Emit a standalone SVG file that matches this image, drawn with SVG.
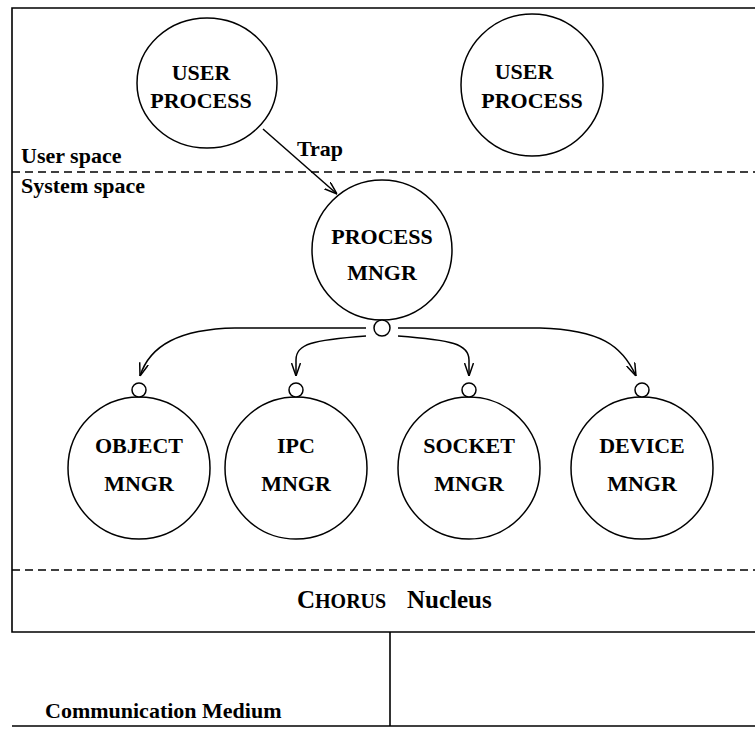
<svg xmlns="http://www.w3.org/2000/svg" width="755" height="729" viewBox="0 0 755 729">
  <style>
    .frame { fill: none; stroke: #000; stroke-width: 1.6; }
    .sep { fill: none; stroke: #000; stroke-width: 1.5; stroke-dasharray: 8 5; }
    .node { fill: #fff; stroke: #000; stroke-width: 1.5; }
    .port { fill: #fff; stroke: #000; stroke-width: 1.5; }
    .wire { fill: none; stroke: #000; stroke-width: 1.5; }
    .lbl { font-family: "Liberation Serif", "Times New Roman", serif; font-weight: bold; font-size: 22px; fill: #000; }
    .mid { text-anchor: middle; }
  </style>
  <defs>
    <marker id="arrow" viewBox="0 0 13 10" refX="13" refY="5" markerWidth="13" markerHeight="10" markerUnits="userSpaceOnUse" orient="auto">
      <path d="M0,0.5 L13,5 L0,9.5" fill="none" stroke="#000" stroke-width="1.5"/>
    </marker>
  </defs>
  <rect width="755" height="729" fill="#fff"/>

  <!-- system frame and region separators -->
  <g id="frame">
    <path class="frame" d="M756,8 H12 V632 H756"/>
    <line class="sep" x1="12" y1="172" x2="756" y2="172"/>
    <line class="sep" x1="12" y1="570" x2="756" y2="570"/>
    <line class="frame" x1="12" y1="726" x2="756" y2="726"/>
    <line class="frame" x1="390" y1="632" x2="390" y2="726"/>
  </g>

  <!-- region labels -->
  <g id="labels">
    <text class="lbl" x="21" y="163">User space</text>
    <text class="lbl" x="21" y="193">System space</text>
    <text class="lbl" x="297" y="156">Trap</text>
    <text class="lbl" x="297" y="608"><tspan font-size="25">C</tspan><tspan font-size="20">HORUS</tspan><tspan x="407" font-size="25">Nucleus</tspan></text>
    <text class="lbl" x="45" y="718" font-size="23">Communication Medium</text>
  </g>

  <!-- connectors -->
  <g id="connectors">
    <line class="wire" x1="263" y1="129" x2="337" y2="194" marker-end="url(#arrow)"/>
    <path class="wire" d="M366,328 H235 C180,329 150,345 140,376" marker-end="url(#arrow)"/>
    <path class="wire" d="M366,336 C312,340 296,344 296,360 V376" marker-end="url(#arrow)"/>
    <path class="wire" d="M398,336 C452,340 469,344 469,360 V376" marker-end="url(#arrow)"/>
    <path class="wire" d="M398,328 H540 C600,330 622,345 636,376" marker-end="url(#arrow)"/>
  </g>

  <g id="user-process-1">
    <ellipse class="node" cx="207" cy="83" rx="70" ry="65"/>
    <text class="lbl mid" x="201" y="80">USER</text>
    <text class="lbl mid" x="201" y="108">PROCESS</text>
  </g>

  <g id="user-process-2">
    <circle class="node" cx="532" cy="85" r="71"/>
    <text class="lbl mid" x="524" y="79">USER</text>
    <text class="lbl mid" x="532" y="108">PROCESS</text>
  </g>

  <g id="process-mngr">
    <circle class="node" cx="382" cy="250" r="70"/>
    <circle class="port" cx="382" cy="328" r="8"/>
    <text class="lbl mid" x="382" y="244">PROCESS</text>
    <text class="lbl mid" x="382" y="280">MNGR</text>
  </g>

  <g id="object-mngr">
    <circle class="node" cx="139" cy="468" r="71"/>
    <circle class="port" cx="139" cy="390" r="7"/>
    <text class="lbl mid" x="139" y="453">OBJECT</text>
    <text class="lbl mid" x="139" y="491">MNGR</text>
  </g>

  <g id="ipc-mngr">
    <circle class="node" cx="296" cy="468" r="71"/>
    <circle class="port" cx="296" cy="390" r="7"/>
    <text class="lbl mid" x="296" y="453">IPC</text>
    <text class="lbl mid" x="296" y="491">MNGR</text>
  </g>

  <g id="socket-mngr">
    <circle class="node" cx="469" cy="468" r="71"/>
    <circle class="port" cx="469" cy="390" r="7"/>
    <text class="lbl mid" x="469" y="453">SOCKET</text>
    <text class="lbl mid" x="469" y="491">MNGR</text>
  </g>

  <g id="device-mngr">
    <circle class="node" cx="642" cy="468" r="71"/>
    <circle class="port" cx="642" cy="390" r="7"/>
    <text class="lbl mid" x="642" y="453">DEVICE</text>
    <text class="lbl mid" x="642" y="491">MNGR</text>
  </g>
</svg>
